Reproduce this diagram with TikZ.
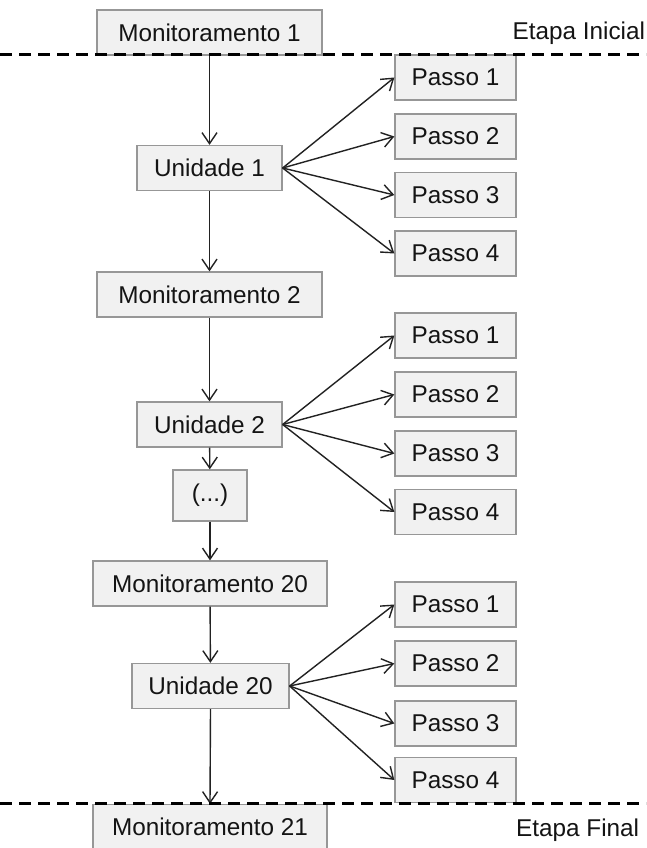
\documentclass[tikz,border=0pt]{standalone}
\usepackage{fontspec}
\setmainfont{Liberation Sans}
\usetikzlibrary{arrows.meta}
\definecolor{boxfill}{HTML}{F1F1F1}
\definecolor{boxline}{HTML}{979797}
\definecolor{ink}{HTML}{141414}
\definecolor{wire}{HTML}{222222}
\tikzset{
  box/.style={draw=boxline, fill=boxfill, line width=1.3pt, inner sep=0pt,
    minimum height=45pt, text=ink, font=\fontsize{24.3}{28}\selectfont},
  monbox/.style={box, minimum width=225pt},
  monwide/.style={box, minimum width=234pt},
  unitbox/.style={box, minimum width=145pt},
  unitwide/.style={box, minimum width=157pt},
  stepbox/.style={box, minimum width=121pt},
  etapa/.style={anchor=west, inner sep=0pt, text=ink, font=\fontsize{24.3}{28}\selectfont},
  link/.style={draw=wire, line width=1.4pt, -{Straight Barb[length=11pt,width=15pt,line width=1.4pt]}},
  stage/.style={draw=black, line width=3pt, dash pattern=on 12pt off 7pt}
}
\begin{document}
\begin{tikzpicture}[x=1pt,y=-1pt]
  \clip (0,0) rectangle (646,848);
  \useasboundingbox (0,0) rectangle (646,848);
  \fill[white] (0,0) rectangle (646,848);

  % main column
  \node[monbox]   (m1)  at (209.5,32.5)  {Monitoramento 1};
  \node[unitbox]  (u1)  at (209.5,168)   {Unidade 1};
  \node[monbox]   (m2)  at (209.5,294.5) {Monitoramento 2};
  \node[unitbox]  (u2)  at (209.5,424.5) {Unidade 2};
  \node[box, minimum width=74pt, minimum height=51pt] (dots) at (210,495.5) {(...)};
  \node[monwide]  (m20) at (210,583.5)   {Monitoramento 20};
  \node[unitwide] (u20) at (210.5,686)   {Unidade 20};
  \node[monwide]  (m21) at (210,827)     {Monitoramento 21};

  % steps of each unit
  \foreach \n/\y in {1/77.5, 2/136.5, 3/195, 4/253.5}
    \node[stepbox] (a\n) at (455.5,\y) {Passo \n};
  \foreach \n/\y in {1/335.5, 2/394.5, 3/453.5, 4/512}
    \node[stepbox] (b\n) at (455.5,\y) {Passo \n};
  \foreach \n/\y in {1/604.5, 2/663.5, 3/723.5, 4/780}
    \node[stepbox] (c\n) at (455.5,\y) {Passo \n};

  % vertical flow
  \draw[link] (m1)   -- (u1);
  \draw[link] (u1)   -- (m2);
  \draw[link] (m2)   -- (u2);
  \draw[link] (u2)   -- (dots);
  \draw[link] (dots) -- (m20);
  \draw[link] (m20)  -- (u20);
  \draw[link] (u20.south) -- (m21.north);

  % fan-out to the steps
  \foreach \n in {1,2,3,4} {
    \draw[link] (u1.east)  -- (a\n.west);
    \draw[link] (u2.east)  -- (b\n.west);
    \draw[link] (u20.east) -- (c\n.west);
  }

  % stage boundaries
  \coordinate (s1l) at (0,55);   \coordinate (s1r) at (646,55);
  \coordinate (s2l) at (0,803);  \coordinate (s2r) at (646,803);
  \draw[stage] (s1l) -- (s1r);
  \draw[stage] (s2l) -- (s2r);

  \node[etapa] (ini) at (512.5,33)  {Etapa Inicial};
  \node[etapa] (fin) at (516,830) {Etapa Final};
\end{tikzpicture}
\end{document}
